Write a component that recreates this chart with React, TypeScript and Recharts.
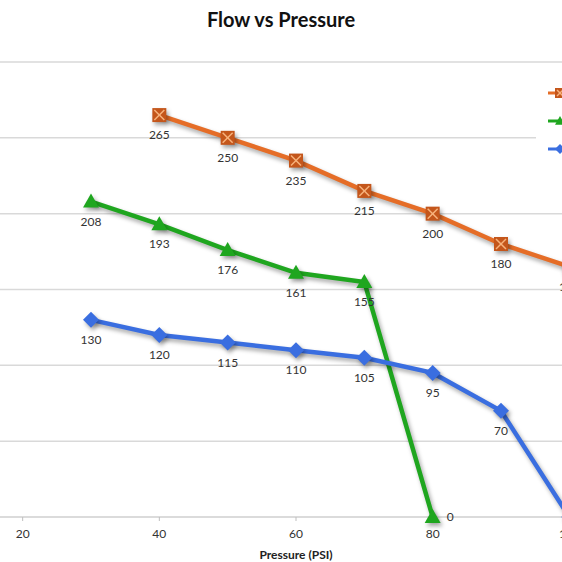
import React from 'react';
import { LineChart, Line, XAxis, YAxis, CartesianGrid, LabelList } from 'recharts';

const orangeX = [40, 50, 60, 70, 80, 90, 100];
const orangeY = [265, 250, 235, 215, 200, 180, 165];
const greenX = [30, 40, 50, 60, 70, 80];
const greenY = [208, 193, 176, 161, 155, 0];
const blueX = [30, 40, 50, 60, 70, 80, 90, 100];
const blueY = [130, 120, 115, 110, 105, 95, 70, 0];
const xTicks = [0, 20, 40, 60, 80, 100, 120];
const yTicks = [0, 50, 100, 150, 200, 250, 300];
const seriesNames = ['Pump A', 'Pump B', 'Pump C'];

const orangeData = orangeX.map((x, i) => ({ x, y: orangeY[i] }));
const greenData = greenX.map((x, i) => ({ x, y: greenY[i] }));
const blueData = blueX.map((x, i) => ({ x, y: blueY[i] }));

const ORANGE = '#E56D27';
const ORANGE_DARK = '#C4561B';
const GREEN = '#1FA61F';
const BLUE = '#3A6EE0';
const FONT = 'Lato, "Open Sans", sans-serif';

const SquareX = ({ cx, cy, s = 7 }: any) => (
  <g>
    <rect x={cx - s} y={cy - s} width={s * 2} height={s * 2} fill={ORANGE_DARK} />
    <line x1={cx - s + 2} y1={cy - s + 2} x2={cx + s - 2} y2={cy + s - 2} stroke="#F7B27C" strokeWidth={1.5} />
    <line x1={cx + s - 2} y1={cy - s + 2} x2={cx - s + 2} y2={cy + s - 2} stroke="#F7B27C" strokeWidth={1.5} />
  </g>
);
const Tri = ({ cx, cy, s = 8 }: any) => (
  <polygon points={`${cx},${cy - s} ${cx + s},${cy + s * 0.75} ${cx - s},${cy + s * 0.75}`} fill={GREEN} />
);
const Diamond = ({ cx, cy, s = 8 }: any) => (
  <polygon points={`${cx},${cy - s} ${cx + s},${cy} ${cx},${cy + s} ${cx - s},${cy}`} fill={BLUE} />
);

const makeLabel = (rightIndex: number) => (props: any) => {
  const { x, y, value, index } = props;
  if (x == null || y == null) return null;
  if (index === rightIndex) {
    return (
      <text x={x + 14} y={y} dy="0.35em" textAnchor="start" fontSize={12} fill="#333" fontFamily={FONT}>
        {value}
      </text>
    );
  }
  return (
    <text x={x} y={y + 20} dy="0.35em" textAnchor="middle" fontSize={12} fill="#333" fontFamily={FONT}>
      {value}
    </text>
  );
};

const legendItems = [
  { name: seriesNames[0], color: ORANGE, Shape: SquareX },
  { name: seriesNames[1], color: GREEN, Shape: Tri },
  { name: seriesNames[2], color: BLUE, Shape: Diamond },
];

const LegendBox = () => (
  <div style={{ position: 'absolute', left: 536, top: 77, background: '#fff', padding: '2px 12px', fontFamily: FONT, fontSize: 12, whiteSpace: 'nowrap' }}>
    {legendItems.map((it) => (
      <div key={it.name} style={{ display: 'flex', alignItems: 'center', height: 28 }}>
        <svg width={22} height={14}>
          <line x1={0} y1={7} x2={22} y2={7} stroke={it.color} strokeWidth={3} />
          <it.Shape cx={12} cy={7} s={5} />
        </svg>
        <span style={{ marginLeft: 6, color: '#333' }}>{it.name}</span>
      </div>
    ))}
  </div>
);

export default function App() {
  return (
    <div style={{ position: 'absolute', left: 0, top: 0, width: 562, height: 562, overflow: 'hidden', background: '#fff' }}>
      <style>{`.recharts-line-curve, .recharts-line-dots { filter: drop-shadow(2px 3px 2px rgba(0,0,0,0.35)); }`}</style>
      <div style={{ position: 'absolute', left: 0, top: 7, width: 562, textAlign: 'center', fontFamily: FONT, fontWeight: 700, fontSize: 20, color: '#111' }}>
        Flow vs Pressure
      </div>
      <div style={{ position: 'absolute', left: -200, top: 0 }}>
        <LineChart width={926} height={562} margin={{ top: 62, right: 20, bottom: 0, left: 0 }}>
          <CartesianGrid vertical={false} stroke="#d9d9d9" strokeWidth={1.5} />
          <XAxis
            type="number"
            dataKey="x"
            domain={[0, 120]}
            ticks={xTicks}
            height={45}
            axisLine={{ stroke: '#d9d9d9', strokeWidth: 1.5 }}
            tickLine={{ stroke: '#bfbfbf' }}
            tickSize={4}
            tickMargin={8}
            tick={{ fontSize: 12, fill: '#333', fontFamily: FONT }}
            label={{ value: 'Pressure (PSI)', position: 'insideBottom', offset: 3, fontSize: 12, fontWeight: 700, fill: '#222', fontFamily: FONT }}
          />
          <YAxis type="number" domain={[0, 300]} ticks={yTicks} width={86} axisLine={false} tickLine={false} tick={{ fontSize: 12, fill: '#333' }} />
          <Line
            data={orangeData}
            dataKey="y"
            name={seriesNames[0]}
            stroke={ORANGE}
            strokeWidth={4.5}
            isAnimationActive={false}
            dot={(p: any) => <SquareX key={`o${p.index}`} cx={p.cx} cy={p.cy} />}
            activeDot={false}
          >
            <LabelList dataKey="y" content={makeLabel(-1)} />
          </Line>
          <Line
            data={greenData}
            dataKey="y"
            name={seriesNames[1]}
            stroke={GREEN}
            strokeWidth={4.5}
            isAnimationActive={false}
            dot={(p: any) => <Tri key={`g${p.index}`} cx={p.cx} cy={p.cy} />}
            activeDot={false}
          >
            <LabelList dataKey="y" content={makeLabel(greenY.length - 1)} />
          </Line>
          <Line
            data={blueData}
            dataKey="y"
            name={seriesNames[2]}
            stroke={BLUE}
            strokeWidth={4.5}
            isAnimationActive={false}
            dot={(p: any) => <Diamond key={`b${p.index}`} cx={p.cx} cy={p.cy} />}
            activeDot={false}
          >
            <LabelList dataKey="y" content={makeLabel(-1)} />
          </Line>
        </LineChart>
      </div>
      <LegendBox />
    </div>
  );
}
